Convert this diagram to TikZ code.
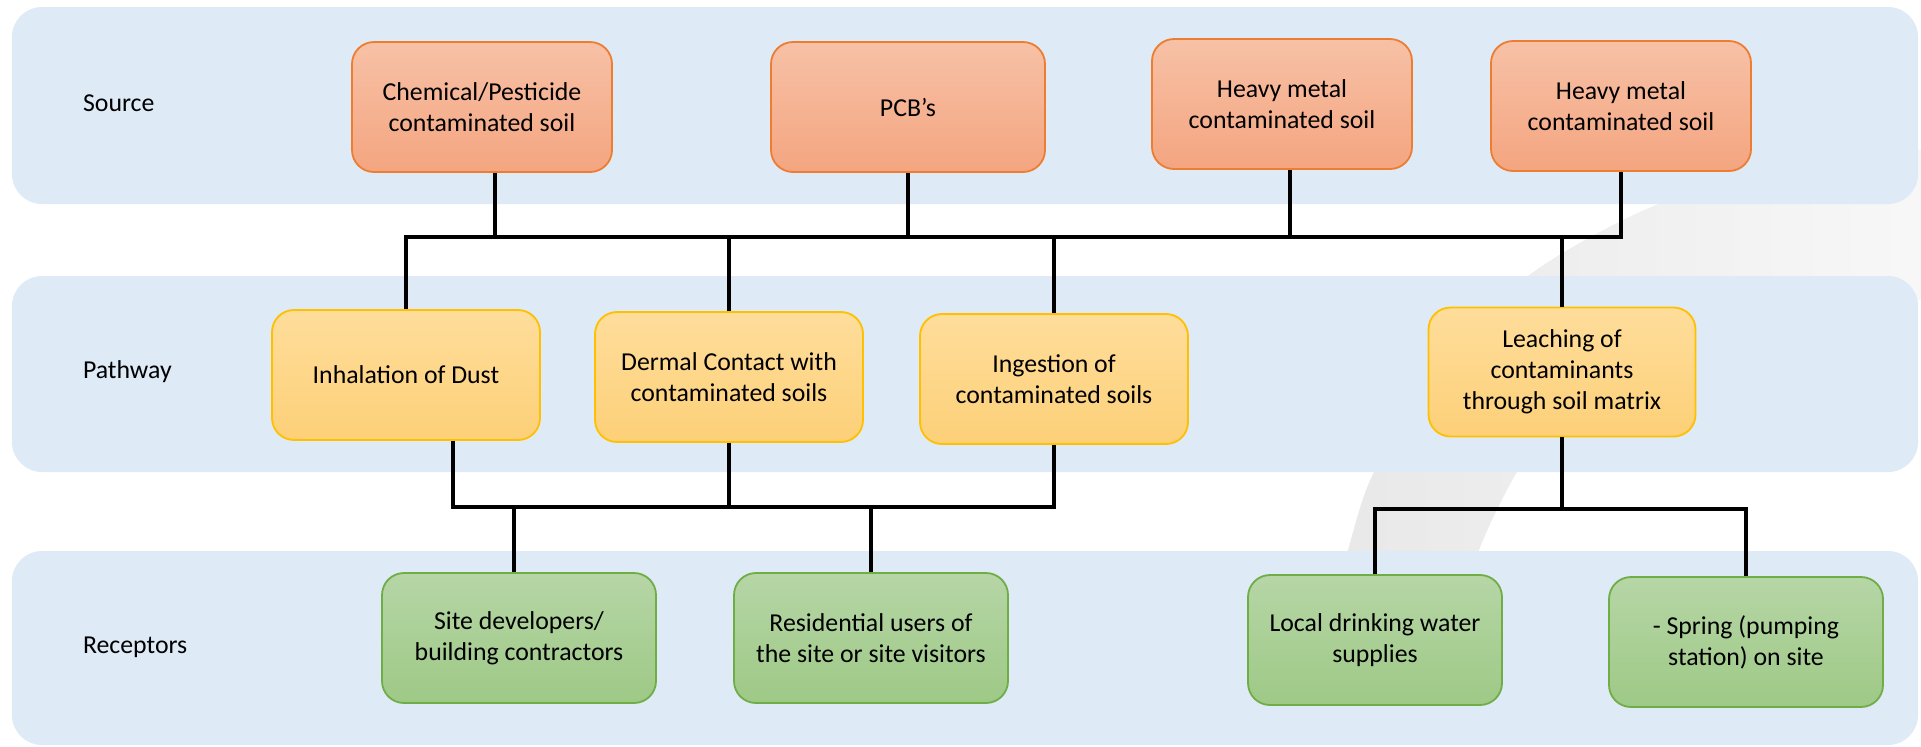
\documentclass[tikz,border=0pt]{standalone}
\usepackage{fontspec}
\setmainfont{Carlito}
\definecolor{bandblue}{RGB}{222,234,246}
\definecolor{srcline}{RGB}{237,125,49}
\definecolor{srctop}{RGB}{247,193,166}
\definecolor{srcbot}{RGB}{244,165,128}
\definecolor{pathline}{RGB}{255,192,0}
\definecolor{pathtop}{RGB}{254,221,155}
\definecolor{pathbot}{RGB}{253,208,120}
\definecolor{recline}{RGB}{112,173,71}
\definecolor{rectop}{RGB}{182,214,166}
\definecolor{recbot}{RGB}{158,201,134}

\begin{document}
\begin{tikzpicture}[x=0.5pt,y=-0.5pt,
  every node/.style={font=\fontsize{12.9}{15.4}\selectfont},
  box/.style={rounded corners=11pt,align=center,inner sep=2pt,line width=0.9pt,
    minimum width=130pt,minimum height=65pt},
  source/.style={box,draw=srcline,top color=srctop,bottom color=srcbot},
  pathway/.style={box,draw=pathline,top color=pathtop,bottom color=pathbot,minimum width=134pt},
  receptor/.style={box,draw=recline,top color=rectop,bottom color=recbot,minimum width=137pt},
  band/.style={fill=bandblue,rounded corners=15pt},
  rowlabel/.style={anchor=west},
  wire/.style={line width=1.8pt}]
  \useasboundingbox (0,0) rectangle (1921,746);

  % backdrop
  \shade[left color=black!9,right color=black!3]
    plot[smooth] coordinates {(1330,620) (1348,550) (1374,472) (1440,370) (1528,276) (1656,205) (1800,165) (1921,150)}
    -- plot[smooth] coordinates {(1921,300) (1660,360) (1560,415) (1517,472) (1479,550) (1462,620)} -- cycle;
  \fill[band] (12,7) rectangle (1918,204);
  \fill[band] (12,276) rectangle (1918,472);
  \fill[band] (12,551) rectangle (1918,745);

  \node[rowlabel] (source) at (76,103) {Source};
  \node[rowlabel] (pathway) at (76,372) {Pathway};
  \node[rowlabel] (receptors) at (76,647) {Receptors};

  \node[source] (chem) at (482,107) {Chemical/Pesticide\\contaminated soil};
  \node[source,minimum width=137pt] (pcb) at (908,107) {PCB's};
  \node[source] (metal1) at (1282,104) {Heavy metal\\contaminated soil};
  \node[source] (metal2) at (1621,106) {Heavy metal\\contaminated soil};

  \node[pathway] (inhal) at (406,375) {Inhalation of Dust};
  \node[pathway] (dermal) at (729,377) {Dermal Contact with\\contaminated soils};
  \node[pathway] (ingest) at (1054,379) {Ingestion of\\contaminated soils};
  \node[pathway,minimum width=133.5pt,minimum height=64.5pt] (leach) at (1562,372) {Leaching of\\contaminants\\through soil matrix};

  \node[receptor] (site) at (519,638) {Site developers/\\building contractors};
  \node[receptor] (resid) at (871,638) {Residential users of\\the site or site visitors};
  \node[receptor,minimum width=127pt] (water) at (1375,640) {Local drinking water\\supplies};
  \node[receptor] (spring) at (1746,642) {- Spring (pumping\\station) on site};

  \coordinate (chem out) at ([xshift=6.5pt]chem.south);
  \coordinate (metal1 out) at ([xshift=4pt]metal1.south);
  \coordinate (inhal out) at ([xshift=23.5pt]inhal.south);
  \coordinate (site in) at ([xshift=-2.5pt]site.north);
  \coordinate (upper bus) at (0,237);
  \coordinate (middle bus) at (0,507);
  \coordinate (right bus) at (0,509);

  % source -> pathway
  \draw[wire] (inhal.north) -- (inhal.north |- upper bus) -- (metal2.south |- upper bus) -- (metal2.south);
  \foreach \a in {chem out,pcb.south,metal1 out,dermal.north,ingest.north,leach.north}
    \draw[wire] (\a) -- (\a |- upper bus);

  % pathway -> receptor
  \draw[wire] (inhal out) -- (inhal out |- middle bus) -- (ingest.south |- middle bus) -- (ingest.south);
  \foreach \a in {dermal.south,site in,resid.north}
    \draw[wire] (\a) -- (\a |- middle bus);
  \draw[wire] (water.north) -- (water.north |- right bus) -- (spring.north |- right bus) -- (spring.north);
  \draw[wire] (leach.south) -- (leach.south |- right bus);
\end{tikzpicture}
\end{document}
